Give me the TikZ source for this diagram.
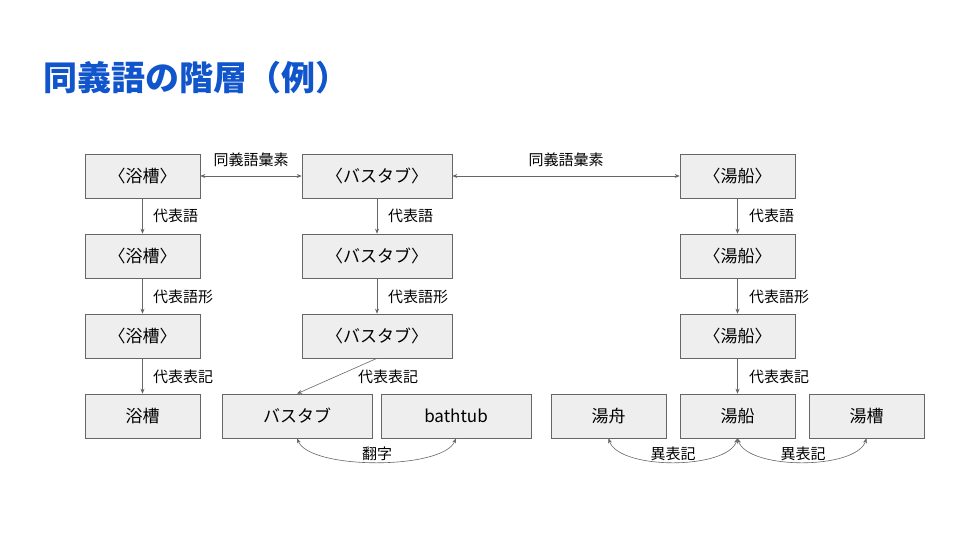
\documentclass[tikz,border=0pt]{standalone}
\usepackage{fontspec}
\setmainfont{Noto Sans CJK JP}
\usetikzlibrary{arrows.meta}
\definecolor{titleblue}{HTML}{1155CC}
\definecolor{boxfill}{HTML}{EEEEEE}
\definecolor{linegray}{HTML}{666666}
\tikzset{
  wbox/.style={draw=linegray, fill=boxfill, line width=0.6pt, minimum height=44pt, inner sep=0pt, font=\fontsize{17}{20}\selectfont, text=black},
  sbox/.style={wbox, minimum width=115pt},
  lbox/.style={wbox, minimum width=150pt},
  conn/.style={draw=linegray, line width=0.6pt, -{Stealth[length=5pt,width=4pt]}},
  bconn/.style={draw=linegray, line width=0.6pt, {Stealth[length=5pt,width=4pt]}-{Stealth[length=5pt,width=4pt]}},
  lab/.style={font=\fontsize{15}{18}\selectfont, text=black, inner sep=0pt},
  vlab/.style={lab, anchor=west},
}
\begin{document}
\begin{tikzpicture}[x=1pt,y=-1pt]
\useasboundingbox (0,0) rectangle (960,540);
\node[anchor=west, text=titleblue, font=\fontsize{34}{40}\selectfont\bfseries, inner sep=0pt] (title) at (43,78) {同義語の階層（例）};

% column 1
\node[sbox] (a1) at (142.5,176) {〈浴槽〉};
\node[sbox] (a2) at (142.5,256) {〈浴槽〉};
\node[sbox] (a3) at (142.5,336) {〈浴槽〉};
\node[sbox] (a4) at (142.5,416) {浴槽};
% column 2
\node[lbox] (b1) at (377,176) {〈バスタブ〉};
\node[lbox] (b2) at (377,256) {〈バスタブ〉};
\node[lbox] (b3) at (377,336) {〈バスタブ〉};
\node[lbox] (b4) at (297,416) {バスタブ};
\node[lbox] (b5) at (456,416) {bathtub};
% column 3
\node[sbox] (c1) at (737.5,176) {〈湯船〉};
\node[sbox] (c2) at (737.5,256) {〈湯船〉};
\node[sbox] (c3) at (737.5,336) {〈湯船〉};
\node[sbox] (c4) at (737.5,416) {湯船};
\node[sbox] (c5) at (608.5,416) {湯舟};
\node[sbox] (c6) at (866.5,416) {湯槽};

% horizontal
\draw[bconn] (a1) -- (b1);
\node[lab] (l1) at (251,160) {同義語彙素};
\draw[bconn] (b1) -- (c1);
\node[lab] (l2) at (566,160) {同義語彙素};

% vertical
\draw[conn] (a1) -- (a2);
\node[vlab] (la1) at (153,216) {代表語};
\draw[conn] (a2) -- (a3);
\node[vlab] (la2) at (153,297) {代表語形};
\draw[conn] (a3) -- (a4);
\node[vlab] (la3) at (153,377) {代表表記};
\draw[conn] (b1) -- (b2);
\node[vlab] (lb1) at (388,216) {代表語};
\draw[conn] (b2) -- (b3);
\node[vlab] (lb2) at (388,297) {代表語形};
\draw[conn] (b3.south) -- (b4.north);
\node[vlab] (lb3) at (358,377) {代表表記};
\draw[conn] (c1) -- (c2);
\node[vlab] (lc1) at (749,216) {代表語};
\draw[conn] (c2) -- (c3);
\node[vlab] (lc2) at (749,297) {代表語形};
\draw[conn] (c3) -- (c4);
\node[vlab] (lc3) at (749,377) {代表表記};

% curved
\draw[bconn] (b4.south) .. controls (310,470) and (443,470) .. (b5.south);
\node[lab] (lt) at (377,454) {翻字};
\draw[bconn] (c4.south) .. controls (727,470) and (619,470) .. (c5.south);
\node[lab] (ld1) at (673,454) {異表記};
\draw[bconn] (c4.south) .. controls (748,470) and (856,470) .. (c6.south);
\node[lab] (ld2) at (803,454) {異表記};
\end{tikzpicture}
\end{document}
